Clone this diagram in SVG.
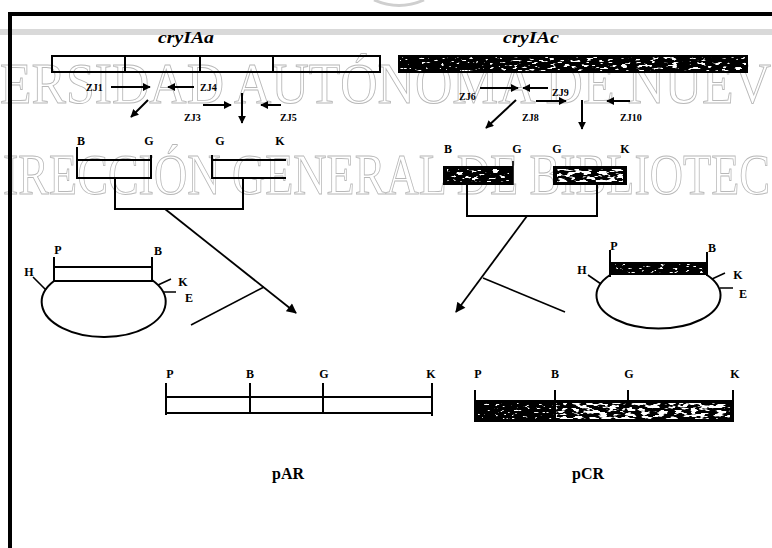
<svg xmlns="http://www.w3.org/2000/svg" width="772" height="548" viewBox="0 0 772 548">
<style>
.wm{font-family:"Liberation Serif","Times New Roman",serif;font-size:56px;fill:none;stroke:#b8b8b8;stroke-width:0.9}
.ln{fill:none;stroke:#000;stroke-width:2}
.thin{fill:none;stroke:#000;stroke-width:1.6}
.arr{fill:none;stroke:#000;stroke-width:2;marker-end:url(#ah)}
.big{fill:none;stroke:#000;stroke-width:1.8;marker-end:url(#ahb)}
.gene{font-family:"Liberation Serif","Times New Roman",serif;font-style:italic;font-weight:bold;font-size:16px;text-anchor:middle}
.lab{font-family:"Liberation Serif","Times New Roman",serif;font-weight:bold;font-size:12px;text-anchor:middle}
.pr{font-family:"Liberation Serif","Times New Roman",serif;font-weight:bold;font-size:10px}
.name{font-family:"Liberation Serif","Times New Roman",serif;font-weight:bold;font-size:16px;text-anchor:middle}
</style>
<defs>
<marker id="ah" viewBox="0 0 10 10" refX="9" refY="5" markerWidth="8" markerHeight="8" markerUnits="userSpaceOnUse" orient="auto"><path d="M0,0 L10,5 L0,10 z"/></marker>
<marker id="ahb" viewBox="0 0 10 10" refX="9" refY="5" markerWidth="11" markerHeight="10" markerUnits="userSpaceOnUse" orient="auto"><path d="M0,0 L10,5 L0,10 z"/></marker>
<filter id="spD" x="0" y="0" width="1" height="1" color-interpolation-filters="sRGB">
<feTurbulence type="fractalNoise" baseFrequency="0.12 0.35" numOctaves="2" seed="4" result="n"/>
<feColorMatrix in="n" type="matrix" values="0 0 0 0 1 0 0 0 0 1 0 0 0 0 1 14 0 0 0 -7" result="m"/>
<feComposite in="m" in2="SourceGraphic" operator="in"/>
</filter>
<filter id="spM" x="0" y="0" width="1" height="1" color-interpolation-filters="sRGB">
<feTurbulence type="fractalNoise" baseFrequency="0.14 0.4" numOctaves="2" seed="9" result="n"/>
<feColorMatrix in="n" type="matrix" values="0 0 0 0 1 0 0 0 0 1 0 0 0 0 1 14 0 0 0 -8.3" result="m"/>
<feComposite in="m" in2="SourceGraphic" operator="in"/>
</filter>
<filter id="spS" x="0" y="0" width="1" height="1" color-interpolation-filters="sRGB">
<feTurbulence type="fractalNoise" baseFrequency="0.2 0.5" numOctaves="2" seed="2" result="n"/>
<feColorMatrix in="n" type="matrix" values="0 0 0 0 1 0 0 0 0 1 0 0 0 0 1 14 0 0 0 -9.2" result="m"/>
<feComposite in="m" in2="SourceGraphic" operator="in"/>
</filter>
</defs>
<rect width="772" height="548" fill="#fff"/>
<g id="watermark">
<rect x="0" y="29" width="772" height="6" fill="#d9d9d9"/>
<path d="M374,0 Q399,11 424,0" fill="none" stroke="#cfcfcf" stroke-width="3"/>
<text class="wm" x="0" y="103" textLength="771" lengthAdjust="spacingAndGlyphs">ERSIDAD AUTÓNOMA DE NUEV</text>
<text class="wm" x="3" y="194" textLength="767" lengthAdjust="spacingAndGlyphs">IRECCIÓN GENERAL DE BIBLIOTEC</text>
</g>
<g id="frame">
<path d="M8,14 H772 M10,12 V548" fill="none" stroke="#000" stroke-width="4"/>
</g>
<g id="gene-cry1Aa">
<text class="gene" x="186" y="43" textLength="56" lengthAdjust="spacingAndGlyphs">cryIAa</text>
<rect x="52" y="56" width="328" height="16" class="ln" fill="#fff"/>
<path d="M125,56 V72 M200,56 V72 M273,56 V72" class="ln"/>
</g>
<g id="gene-cry1Ac">
<text class="gene" x="531" y="43" textLength="56" lengthAdjust="spacingAndGlyphs">cryIAc</text>
<rect x="398" y="55" width="350" height="18" fill="#000"/>
<rect x="400" y="57" width="100" height="14" fill="#fff" filter="url(#spS)"/>
<rect x="500" y="57" width="246" height="14" fill="#fff" filter="url(#spM)"/>
</g>
<g id="primers-left">
<text class="pr" x="86" y="91">ZJ1</text>
<line x1="111" y1="87" x2="150" y2="87" class="arr"/>
<line x1="194" y1="87" x2="168" y2="87" class="arr"/>
<text class="pr" x="200" y="91">ZJ4</text>
<line x1="148" y1="100" x2="131" y2="117" class="arr"/>
<text class="pr" x="184" y="121">ZJ3</text>
<line x1="203" y1="105" x2="231" y2="105" class="arr"/>
<line x1="242" y1="93" x2="242" y2="123" class="arr"/>
<line x1="281" y1="105" x2="261" y2="105" class="arr"/>
<text class="pr" x="280" y="121">ZJ5</text>
</g>
<g id="primers-right">
<text class="pr" x="459" y="100">ZJ6</text>
<line x1="480" y1="88" x2="518" y2="88" class="arr"/>
<line x1="548" y1="88" x2="523" y2="88" class="arr"/>
<text class="pr" x="552" y="96">ZJ9</text>
<line x1="516" y1="100" x2="486" y2="128" class="arr"/>
<text class="pr" x="522" y="121">ZJ8</text>
<line x1="536" y1="101" x2="566" y2="101" class="arr"/>
<line x1="582" y1="100" x2="582" y2="129" class="arr"/>
<line x1="630" y1="101" x2="607" y2="101" class="arr"/>
<text class="pr" x="620" y="121">ZJ10</text>
</g>
<g id="fragments-left">
<text class="lab" x="81" y="145">B</text>
<text class="lab" x="149" y="145">G</text>
<text class="lab" x="220" y="145">G</text>
<text class="lab" x="280" y="145">K</text>
<path d="M77,147 V178 H152 M77,160 H152 M151,155 V178" class="ln"/>
<path d="M212,155 V178 H286 M212,160 H286" class="ln"/>
</g>
<g id="fragments-right">
<text class="lab" x="448" y="153">B</text>
<text class="lab" x="517" y="153">G</text>
<text class="lab" x="557" y="153">G</text>
<text class="lab" x="625" y="153">K</text>
<rect x="443" y="166" width="70" height="19" fill="#000"/>
<rect x="447" y="169" width="62" height="13" fill="#fff" filter="url(#spM)"/>
<path d="M513,161 V185" class="thin"/>
<rect x="553" y="166" width="74" height="19" fill="#000"/>
<rect x="557" y="169" width="66" height="13" fill="#fff" filter="url(#spD)"/>
</g>
<g id="plasmid-left">
<text class="lab" x="58" y="254">P</text>
<text class="lab" x="158" y="255">B</text>
<text class="lab" x="29" y="276">H</text>
<text class="lab" x="183" y="286">K</text>
<text class="lab" x="189" y="302">E</text>
<path d="M54,257 V282 M152,257 V282 M54,267 H152 M54,281 H152" class="ln"/>
<path d="M54,281 A62,35 0 1 0 152,280" class="ln"/>
<path d="M33,277 L46,290 M158,285 L171,279 M164,292 H176" class="thin"/>
</g>
<g id="plasmid-right">
<text class="lab" x="614" y="250">P</text>
<text class="lab" x="712" y="252">B</text>
<text class="lab" x="582" y="274">H</text>
<text class="lab" x="738" y="279">K</text>
<text class="lab" x="743" y="298">E</text>
<rect x="610" y="262" width="97" height="13" fill="#000"/>
<rect x="613" y="264" width="91" height="9" fill="#fff" filter="url(#spS)"/>
<path d="M610,250 V277 M707,252 V276" class="ln"/>
<path d="M610,275 A62,33 0 1 0 707,275" class="ln"/>
<path d="M588,275 L601,284 M712,279 L725,273 M720,288 H733" class="thin"/>
</g>
<g id="pAR">
<text class="lab" x="170" y="378">P</text>
<text class="lab" x="250" y="378">B</text>
<text class="lab" x="324" y="378">G</text>
<text class="lab" x="431" y="378">K</text>
<path d="M166,383 V415 M432,383 V416 M166,397 H432 M166,413 H432 M250,383 V413 M323,383 V413" class="ln"/>
<text class="name" x="288" y="479">pAR</text>
</g>
<g id="pCR">
<text class="lab" x="478" y="378">P</text>
<text class="lab" x="555" y="378">B</text>
<text class="lab" x="629" y="378">G</text>
<text class="lab" x="735" y="378">K</text>
<rect x="475" y="400" width="258" height="22" fill="#000"/>
<rect x="478" y="403" width="76" height="16" fill="#fff" filter="url(#spS)"/>
<rect x="556" y="403" width="174" height="16" fill="#fff" filter="url(#spD)"/>
<path d="M475,390 V422 M555,390 V402 M628,390 V402 M733,390 V422" class="ln"/>
<text class="name" x="588" y="479">pCR</text>
</g>
<g id="connectors">
<path d="M115,178 V209 H243 V178" class="ln"/>
<line x1="165" y1="209" x2="296" y2="313" class="big"/>
<line x1="264" y1="287" x2="191" y2="325" class="thin"/>
<path d="M467,185 V216 H597 V185" class="ln"/>
<line x1="527" y1="216" x2="456" y2="312" class="big"/>
<line x1="483" y1="278" x2="565" y2="312" class="thin"/>
</g>
</svg>
